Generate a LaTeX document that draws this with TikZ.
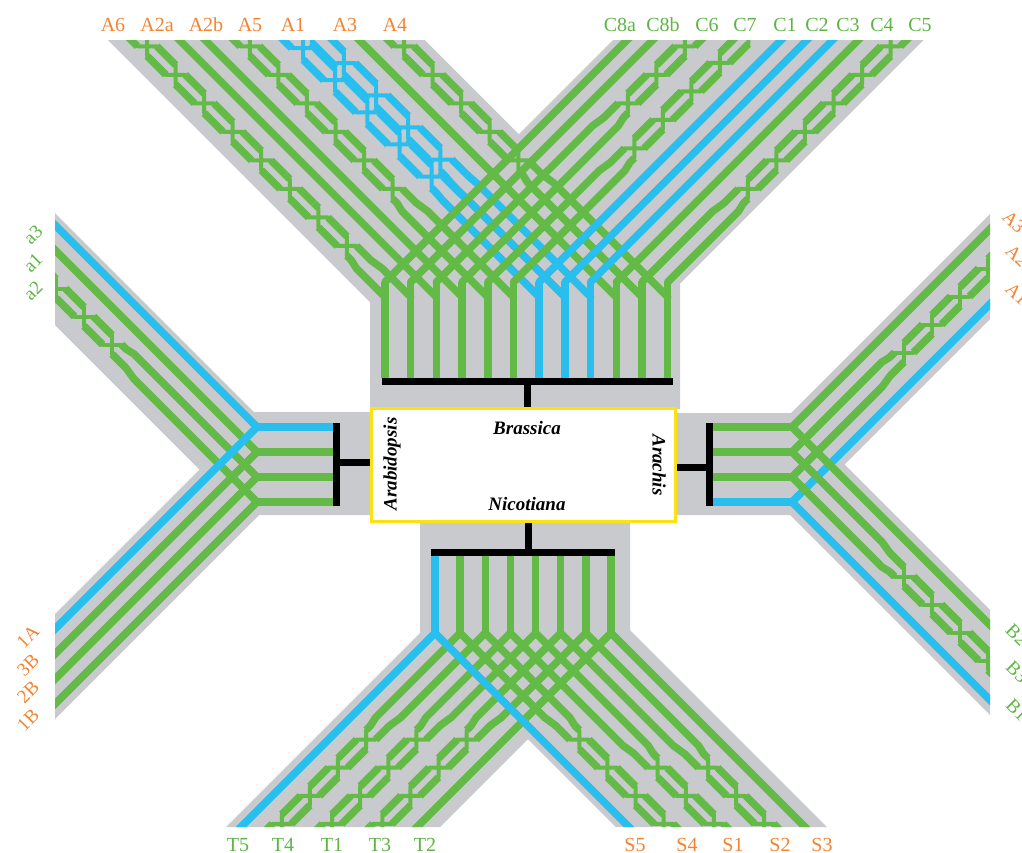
\documentclass[tikz,border=0pt]{standalone}
\usepackage{fontspec}
\setmainfont{Liberation Serif}
\definecolor{gr}{RGB}{201,202,205}
\definecolor{gn}{RGB}{99,186,70}
\definecolor{bl}{RGB}{40,190,238}
\definecolor{og}{RGB}{242,132,50}
\definecolor{lg}{RGB}{95,180,70}
\definecolor{yl}{RGB}{250,226,20}
% #1 colour, #2 lane k, #3 outer s, #4 inner s, #5 sg, #6 lane spacing, #7 delta
\newcommand\twist[7]{%
  \pgfmathsetmacro\twlo{#2+#7}%
  \pgfmathsetmacro\twhi{#2+1-#7}%
  \pgfmathsetmacro\twh{#6*(1-2*#7)/2}%
  \pgfmathsetmacro\twH{2*\twh+9}%
  \pgfmathtruncatemacro\twn{max(1,(#3-#4)/\twH)}%
  \pgfmathsetmacro\twp{\twh*(1+(#5))/2}%
  \pgfmathsetmacro\twm{\twh*(1-(#5))/2}%
  \foreach \i in {1,...,\twn}{%
    \pgfmathsetmacro\twa{#3-(\i-1)*\twH}%
    \pgfmathsetmacro\twb{#3-\i*\twH}%
    \pgfmathsetmacro\twc{(\twa+\twb)/2}%
    \pgfmathsetmacro\twja{\twc-(#5)*\twh}%
    \pgfmathsetmacro\twjb{\twc+(#5)*\twh}%
    \draw[run,#1] (\twa,\twlo) -- (\twc+\twm,\twlo) (\twc-\twp,\twlo) -- (\twb,\twlo)
                  (\twa,\twhi) -- (\twc+\twp,\twhi) (\twc-\twm,\twhi) -- (\twb,\twhi);
    \draw[jog,#1] (\twc,\twlo) -- (\twc,\twhi) (\twja,\twlo) -- (\twjb,\twhi);
  }%
  \pgfmathsetmacro\twe{#3-\twn*\twH}%
  \draw[lane,#1] (\twe,\twlo) -- (\twe-8,#2) -- (0,#2);
  \draw[lane,#1] (\twe,\twhi) -- (\twe-8,#2+1) -- (0,#2+1);
}
\begin{document}
\begin{tikzpicture}[x=1pt,y=-1pt,
  run/.style={line width=7.5pt,line cap=butt},
  jog/.style={line width=4pt,line cap=round},
  lane/.style={line width=7.5pt,line cap=round,line join=round},
  vert/.style={line width=7.5pt,line cap=butt},
  bar/.style={line width=7pt,line cap=butt,black},
  lab/.style={font=\fontsize{20}{22}\selectfont,inner sep=0pt},
  rlab/.style={font=\fontsize{19}{21}\selectfont,inner sep=0pt},
  gen/.style={font=\fontsize{19}{22}\selectfont\bfseries\itshape,inner sep=0pt}]
\useasboundingbox (0,0) rectangle (1022,852);
\fill[white] (0,0) rectangle (1022,852);

% ---------- top part (Brassica) ----------
\fill[gr] (108,40) -- (424.7,40) -- (518.85,134.15) -- (613,40) -- (923.7,40) -- (680,283.7) -- (680,409) -- (370,409) -- (370,302) -- cycle;
\begin{scope}
\clip (108,40) -- (424.7,40) -- (518.85,134.15) -- (613,40) -- (923.7,40) -- (680,283.7) -- (680,409) -- (370,409) -- (370,302) -- cycle;
\begin{scope}[shift={(385,297)},x={(-1pt,1pt)},y={(25.7pt,0pt)}]
  \twist{gn}{0}{265}{25}{1}{25.7}{0.12}
  \draw[lane,gn] (270,2) -- (0,2);
  \draw[lane,gn] (270,3) -- (0,3);
  \twist{gn}{4}{265}{72}{1}{25.7}{0.12}
  \twist{bl}{6}{265}{92}{1}{25.7}{0.05}
  \twist{bl}{7}{282}{92}{1}{25.7}{0.05}
  \draw[lane,gn] (270,9) -- (0,9);
  \twist{gn}{10}{265}{117}{1}{25.7}{0.12}
\end{scope}
\begin{scope}[shift={(385,282)},x={(1pt,1pt)},y={(25.7pt,0pt)}]
  \draw[lane,gn] (255,0) -- (0,0);
  \draw[lane,gn] (255,1) -- (0,1);
  \twist{gn}{2}{250}{147}{-1}{25.7}{0.12}
  \twist{gn}{4}{262}{102}{-1}{25.7}{0.12}
  \draw[lane,bl] (255,6) -- (0,6);
  \draw[lane,bl] (255,7) -- (0,7);
  \draw[lane,bl] (255,8) -- (0,8);
  \draw[lane,gn] (255,9) -- (0,9);
  \twist{gn}{10}{250}{57}{-1}{25.7}{0.12}
\end{scope}
\end{scope}
\foreach \j in {0,1,2,3,4,5,9,10,11}{\draw[vert,gn] ({385+25.7*\j},282) -- ({385+25.7*\j},378);}
\foreach \j in {6,7,8}{\draw[vert,bl] ({385+25.7*\j},282) -- ({385+25.7*\j},378);}
\draw[bar] (382,381.5) -- (673,381.5);
\draw[bar] (527.5,381.5) -- (527.5,409);

% ---------- left part (Arabidopsis) ----------
\fill[gr] (55,213) -- (254,412) -- (372,412) -- (372,515) -- (259,515) -- (55,719) -- (55,614) -- (199.5,469.5) -- (55,325) -- cycle;
\begin{scope}
\clip (55,213) -- (254,412) -- (372,412) -- (372,515) -- (259,515) -- (55,719) -- (55,614) -- (199.5,469.5) -- (55,325) -- cycle;
\begin{scope}[shift={(257,427)},x={(-1pt,1pt)},y={(0pt,-25pt)}]
  \draw[lane,bl] (215,0) -- (0,0);
  \draw[lane,gn] (215,1) -- (0,1);
  \twist{gn}{2}{215}{117}{1}{25}{0.12}
\end{scope}
\begin{scope}[shift={(257,427)},x={(-1pt,-1pt)},y={(0pt,-25pt)}]
  \draw[lane,bl] (215,0) -- (0,0);
  \draw[lane,gn] (215,1) -- (0,1);
  \draw[lane,gn] (215,2) -- (0,2);
  \draw[lane,gn] (215,3) -- (0,3);
\end{scope}
\end{scope}
\draw[vert,bl] (257,427) -- (336,427);
\foreach \k in {1,2,3}{\draw[vert,gn] (257,{427+25*\k}) -- (336,{427+25*\k});}
\draw[bar] (336,423) -- (336,506);
\draw[bar] (336,462.5) -- (372,462.5);

% ---------- right part (Arachis) ----------
\fill[gr] (677,413) -- (791,413) -- (990,214) -- (990,319) -- (844.5,464.5) -- (990,610) -- (990,715) -- (790,515) -- (677,515) -- cycle;
\begin{scope}
\clip (677,413) -- (791,413) -- (990,214) -- (990,319) -- (844.5,464.5) -- (990,610) -- (990,715) -- (790,515) -- (677,515) -- cycle;
\begin{scope}[shift={(792,427)},x={(1pt,1pt)},y={(0pt,-25pt)}]
  \draw[lane,gn] (215,0) -- (0,0);
  \twist{gn}{1}{210}{83}{1}{25}{0.12}
  \draw[lane,bl] (215,3) -- (0,3);
\end{scope}
\begin{scope}[shift={(792,427)},x={(1pt,-1pt)},y={(0pt,-25pt)}]
  \draw[lane,gn] (215,0) -- (0,0);
  \twist{gn}{1}{210}{88}{-1}{25}{0.12}
  \draw[lane,bl] (215,3) -- (0,3);
\end{scope}
\end{scope}
\foreach \k in {0,1,2}{\draw[vert,gn] (709,{427+25*\k}) -- (792,{427+25*\k});}
\draw[vert,bl] (709,502) -- (792,502);
\draw[bar] (709.5,423) -- (709.5,506);
\draw[bar] (677,467.5) -- (709.5,467.5);

% ---------- bottom part (Nicotiana) ----------
\fill[gr] (420,520) -- (630,520) -- (630,630) -- (827,827) -- (616,827) -- (528,739) -- (440,827) -- (226,827) -- (420,633) -- cycle;
\begin{scope}
\clip (420,520) -- (630,520) -- (630,630) -- (827,827) -- (616,827) -- (528,739) -- (440,827) -- (226,827) -- (420,633) -- cycle;
\begin{scope}[shift={(435,633)},x={(-1pt,-1pt)},y={(25.14pt,0pt)}]
  \draw[lane,bl] (210,0) -- (0,0);
  \twist{gn}{1}{205}{80}{1}{25.14}{0.12}
  \twist{gn}{3}{205}{77}{1}{25.14}{0.12}
  \twist{gn}{5}{205}{90}{1}{25.14}{0.12}
  \draw[lane,gn] (210,7) -- (0,7);
\end{scope}
\begin{scope}[shift={(435,633)},x={(1pt,-1pt)},y={(25.14pt,0pt)}]
  \draw[lane,bl] (210,0) -- (0,0);
  \twist{gn}{1}{205}{82}{-1}{25.14}{0.12}
  \twist{gn}{3}{205}{94}{-1}{25.14}{0.12}
  \twist{gn}{5}{205}{94}{-1}{25.14}{0.12}
  \draw[lane,gn] (210,7) -- (0,7);
\end{scope}
\end{scope}
\draw[vert,bl] (435,552) -- (435,633);
\foreach \j in {1,...,7}{\draw[vert,gn] ({435+25.14*\j},552) -- ({435+25.14*\j},633);}
\draw[bar] (431,552) -- (615,552);
\draw[bar] (528,520) -- (528,552);

% ---------- central box ----------
\node[draw=yl,line width=3pt,fill=white,minimum width=304pt,minimum height=112.5pt,inner sep=0pt] (box) at (523.5,464.75) {};
\node[gen] (brassica) at (527,428) {Brassica};
\node[gen] (nicotiana) at (527,504) {Nicotiana};
\node[gen,rotate=90] (arabidopsis) at (392,464) {Arabidopsis};
\node[gen,rotate=-90] (arachis) at (659,465) {Arachis};

% ---------- labels ----------
\node[lab,text=og] (lA6) at (113,25) {A6};
\node[lab,text=og] (lA2a) at (157,25) {A2a};
\node[lab,text=og] (lA2b) at (206,25) {A2b};
\node[lab,text=og] (lA5) at (250,25) {A5};
\node[lab,text=og] (lA1) at (293,25) {A1};
\node[lab,text=og] (lA3) at (345,25) {A3};
\node[lab,text=og] (lA4) at (395,25) {A4};
\node[lab,text=lg] (lC8a) at (620,25) {C8a};
\node[lab,text=lg] (lC8b) at (663,25) {C8b};
\node[lab,text=lg] (lC6) at (707,25) {C6};
\node[lab,text=lg] (lC7) at (745,25) {C7};
\node[lab,text=lg] (lC1) at (785,25) {C1};
\node[lab,text=lg] (lC2) at (817,25) {C2};
\node[lab,text=lg] (lC3) at (848,25) {C3};
\node[lab,text=lg] (lC4) at (882,25) {C4};
\node[lab,text=lg] (lC5) at (920,25) {C5};
\node[rlab,text=lg,rotate=45] (la3) at (33,235) {a3};
\node[rlab,text=lg,rotate=45] (la1) at (33,263) {a1};
\node[rlab,text=lg,rotate=45] (la2) at (33,291) {a2};
\node[rlab,text=og,rotate=45] (l1A) at (28,637) {1A};
\node[rlab,text=og,rotate=45] (l3B) at (28,665) {3B};
\node[rlab,text=og,rotate=45] (l2B) at (28,692) {2B};
\node[rlab,text=og,rotate=45] (l1B) at (28,720) {1B};
\node[rlab,text=og,rotate=-45] (rA3) at (1014,222) {A3};
\node[rlab,text=og,rotate=-45] (rA2) at (1017,256) {A2};
\node[rlab,text=og,rotate=-45] (rA1) at (1017,294) {A1};
\node[rlab,text=lg,rotate=-45] (rB2) at (1017,635) {B2};
\node[rlab,text=lg,rotate=-45] (rB3) at (1017,672) {B3};
\node[rlab,text=lg,rotate=-45] (rB1) at (1017,710) {B1};
\node[lab,text=lg] (lT5) at (238,845) {T5};
\node[lab,text=lg] (lT4) at (283,845) {T4};
\node[lab,text=lg] (lT1) at (332,845) {T1};
\node[lab,text=lg] (lT3) at (380,845) {T3};
\node[lab,text=lg] (lT2) at (425,845) {T2};
\node[lab,text=og] (lS5) at (635,845) {S5};
\node[lab,text=og] (lS4) at (687,845) {S4};
\node[lab,text=og] (lS1) at (733,845) {S1};
\node[lab,text=og] (lS2) at (780,845) {S2};
\node[lab,text=og] (lS3) at (822,845) {S3};
\end{tikzpicture}
\end{document}
